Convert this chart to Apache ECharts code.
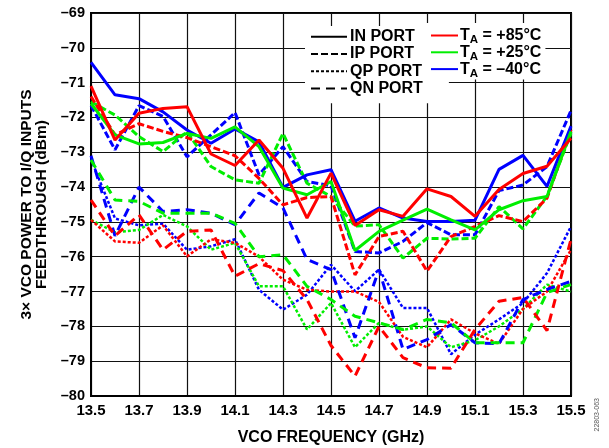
<!DOCTYPE html>
<html><head><meta charset="utf-8">
<script src="https://cdn.jsdelivr.net/npm/echarts@6/dist/echarts.min.js"></script>
<style>html,body{margin:0;padding:0;background:#fff}#c{width:609px;height:448px}</style>
</head><body><div id="c"></div>
<script>
// Frequencies (GHz), one point every 0.1 GHz
const freq = ['13.5','13.6','13.7','13.8','13.9','14.0','14.1','14.2','14.3','14.4','14.5','14.6','14.7','14.8','14.9','15.0','15.1','15.2','15.3','15.4','15.5'];

// IN PORT (solid)
const inBlue  = [-70.42,-71.35,-71.46,-71.84,-72.36,-72.74,-72.33,-72.70,-74.01,-73.65,-73.50,-74.98,-74.60,-74.89,-74.99,-74.99,-74.95,-73.49,-73.09,-73.98,-72.25];
const inRed   = [-71.10,-72.65,-71.88,-71.74,-71.69,-73.05,-73.38,-72.65,-73.46,-74.89,-73.60,-75.10,-74.65,-74.84,-74.05,-74.27,-74.84,-74.07,-73.61,-73.40,-72.60];
const inGreen = [-71.60,-72.50,-72.76,-72.72,-72.46,-72.60,-72.27,-72.84,-74.03,-74.22,-73.84,-75.82,-75.27,-74.95,-74.63,-74.94,-75.23,-74.65,-74.39,-74.27,-72.40];
// IP PORT (dashed)
const ipBlue  = [-71.65,-72.93,-71.66,-71.97,-73.13,-72.50,-71.86,-73.65,-72.84,-73.84,-73.96,-75.85,-75.89,-75.56,-75.02,-75.37,-75.37,-74.10,-73.94,-73.41,-71.80];
const ipRed   = [-71.40,-72.50,-72.18,-72.40,-72.58,-72.84,-73.10,-73.75,-74.51,-74.30,-74.27,-76.52,-75.42,-75.27,-76.41,-75.42,-75.13,-74.82,-74.99,-74.32,-72.35];
const ipGreen = [-71.55,-71.93,-72.55,-72.98,-72.41,-73.41,-73.79,-73.89,-72.46,-73.89,-74.27,-75.12,-75.08,-76.04,-75.47,-75.49,-75.47,-74.56,-75.20,-74.26,-72.45];
// QP PORT (short dash)
const qpBlue  = [-73.20,-74.90,-75.10,-75.05,-75.80,-75.70,-75.50,-76.95,-77.52,-77.09,-76.23,-76.99,-76.37,-77.47,-77.47,-78.80,-78.24,-77.80,-77.33,-76.47,-75.13];
const qpRed   = [-74.94,-75.56,-75.60,-75.10,-75.99,-75.50,-75.60,-76.00,-76.66,-76.95,-77.00,-77.00,-77.30,-78.30,-78.60,-77.80,-78.20,-78.50,-77.50,-77.00,-75.80];
const qpGreen = [-74.94,-75.30,-75.23,-74.80,-75.13,-75.80,-75.60,-76.85,-76.85,-78.09,-77.33,-78.60,-77.90,-78.10,-78.00,-78.60,-78.40,-78.00,-77.50,-76.80,-77.00];
// QN PORT (long dash)
const qnBlue  = [-73.10,-75.40,-74.00,-74.70,-74.65,-74.75,-75.08,-74.17,-74.60,-76.08,-76.37,-78.33,-76.37,-78.66,-78.38,-77.95,-78.47,-78.50,-77.23,-76.94,-76.71];
const qnRed   = [-74.37,-75.40,-74.80,-75.80,-75.27,-75.23,-76.56,-76.20,-76.40,-77.23,-78.55,-79.43,-78.00,-78.90,-79.19,-79.20,-78.09,-77.28,-77.17,-78.12,-75.50];
const qnGreen = [-73.22,-74.37,-74.41,-74.75,-74.75,-74.75,-75.04,-76.00,-75.94,-76.85,-77.23,-77.71,-77.90,-78.09,-77.80,-77.90,-78.47,-78.47,-78.47,-77.03,-76.80];

const yMin = -80, yMax = -69, yStep = 1;

const RED = '#ff0000', GREEN = '#00ee00', BLUE = '#0000ff';
const styles = {
  IN: {type: 'solid', width: 3},
  IP: {type: [7, 3], width: 3},
  QP: {type: [3, 2], width: 2.5},
  QN: {type: [9, 6], width: 3}
};
function mk(name, data, color, port) {
  return {name, type: 'line', data, symbol: 'none', silent: true, animation: false,
    lineStyle: {color, width: styles[port].width, type: styles[port].type}, itemStyle: {color}};
}
function dummy(name, color, port) {
  return {name, type: 'line', data: [], symbol: 'none', animation: false,
    lineStyle: {color, width: 3, type: styles[port].type}, itemStyle: {color, opacity: 0}};
}
const series = [
  mk('qpBlue', qpBlue, BLUE, 'QP'), mk('qpGreen', qpGreen, GREEN, 'QP'), mk('qpRed', qpRed, RED, 'QP'),
  mk('qnBlue', qnBlue, BLUE, 'QN'), mk('qnGreen', qnGreen, GREEN, 'QN'), mk('qnRed', qnRed, RED, 'QN'),
  mk('ipBlue', ipBlue, BLUE, 'IP'), mk('ipGreen', ipGreen, GREEN, 'IP'), mk('ipRed', ipRed, RED, 'IP'),
  mk('inBlue', inBlue, BLUE, 'IN'), mk('inGreen', inGreen, GREEN, 'IN'), mk('inRed', inRed, RED, 'IN'),
  dummy('IN PORT', '#000', 'IN'), dummy('IP PORT', '#000', 'IP'), dummy('QP PORT', '#000', 'QP'), dummy('QN PORT', '#000', 'QN'),
  dummy('T85', RED, 'IN'), dummy('T25', GREEN, 'IN'), dummy('T40', BLUE, 'IN')
];
const tempLabels = {T85: ' = +85°C', T25: ' = +25°C', T40: ' = –40°C'};
const FONT = 'Liberation Sans, Arial, sans-serif';

const chart = echarts.init(document.getElementById('c'), null, {renderer: 'canvas'});
chart.setOption({
  animation: false,
  backgroundColor: '#fff',
  grid: {left: 91, right: 38, top: 13, bottom: 52, show: true, borderColor: '#000', borderWidth: 2,
    containLabel: false, outerBoundsMode: 'none'},
  xAxis: {
    type: 'category', data: freq, boundaryGap: false,
    axisLine: {lineStyle: {color: '#000', width: 2}},
    axisTick: {show: false},
    axisLabel: {interval: 1, color: '#000', fontFamily: FONT, fontWeight: 'bold', fontSize: 15, margin: 7},
    splitLine: {show: true, interval: 1, lineStyle: {color: '#111', width: 1.2}},
    name: 'VCO FREQUENCY (GHz)', nameLocation: 'middle', nameGap: 34,
    nameTextStyle: {color: '#000', fontFamily: FONT, fontWeight: 'bold', fontSize: 16}
  },
  yAxis: {
    type: 'value', min: yMin, max: yMax, interval: yStep,
    axisLine: {show: true, lineStyle: {color: '#000', width: 2}},
    axisTick: {show: false},
    axisLabel: {color: '#000', fontFamily: FONT, fontWeight: 'bold', fontSize: 14.5, margin: 6,
      formatter: v => String(v).replace('-', '–')},
    splitLine: {show: true, lineStyle: {color: '#111', width: 1.2}},
    name: '3× VCO POWER TO I/Q INPUTS\nFEEDTHROUGH (dBm)', nameLocation: 'middle', nameGap: 32, nameRotate: 90,
    nameTextStyle: {color: '#000', fontFamily: FONT, fontWeight: 'bold', fontSize: 15.5, lineHeight: 15}
  },
  legend: [
    {
      data: ['IN PORT', 'IP PORT', 'QP PORT', 'QN PORT'], orient: 'vertical', left: 305, top: 26,
      padding: [2, 26, 6, 5], itemGap: 0, itemWidth: 36, itemHeight: 10, backgroundColor: '#fff',
      selectedMode: false, itemStyle: {opacity: 0},
      textStyle: {color: '#000', fontFamily: FONT, fontWeight: 'bold', fontSize: 16, lineHeight: 17.3, padding: [0, 0, 0, -2]}
    },
    {
      data: ['T85', 'T25', 'T40'], orient: 'vertical', left: 426, top: 23,
      padding: [2, 4, 0, 4], itemGap: -4.2, itemWidth: 27, itemHeight: 10, backgroundColor: '#fff',
      selectedMode: false, itemStyle: {opacity: 0},
      formatter: n => '{t|T}{s|A}{t|' + tempLabels[n] + '}',
      textStyle: {color: '#000', fontFamily: FONT, fontWeight: 'bold', fontSize: 16, lineHeight: 16.7, padding: [0, 0, 0, -3],
        rich: {
          t: {fontFamily: FONT, fontWeight: 'bold', fontSize: 16, lineHeight: 16.7, color: '#000'},
          s: {fontFamily: FONT, fontWeight: 'bold', fontSize: 11.5, lineHeight: 7.5, color: '#000', padding: [9, 0, 0, 0]}
        }}
    }
  ],
  graphic: [{
    type: 'text', left: 594, top: 398, rotation: Math.PI / 2,
    style: {text: '22803-063', fill: '#555', font: '7px ' + FONT}
  }],
  series
});
</script></body></html>
